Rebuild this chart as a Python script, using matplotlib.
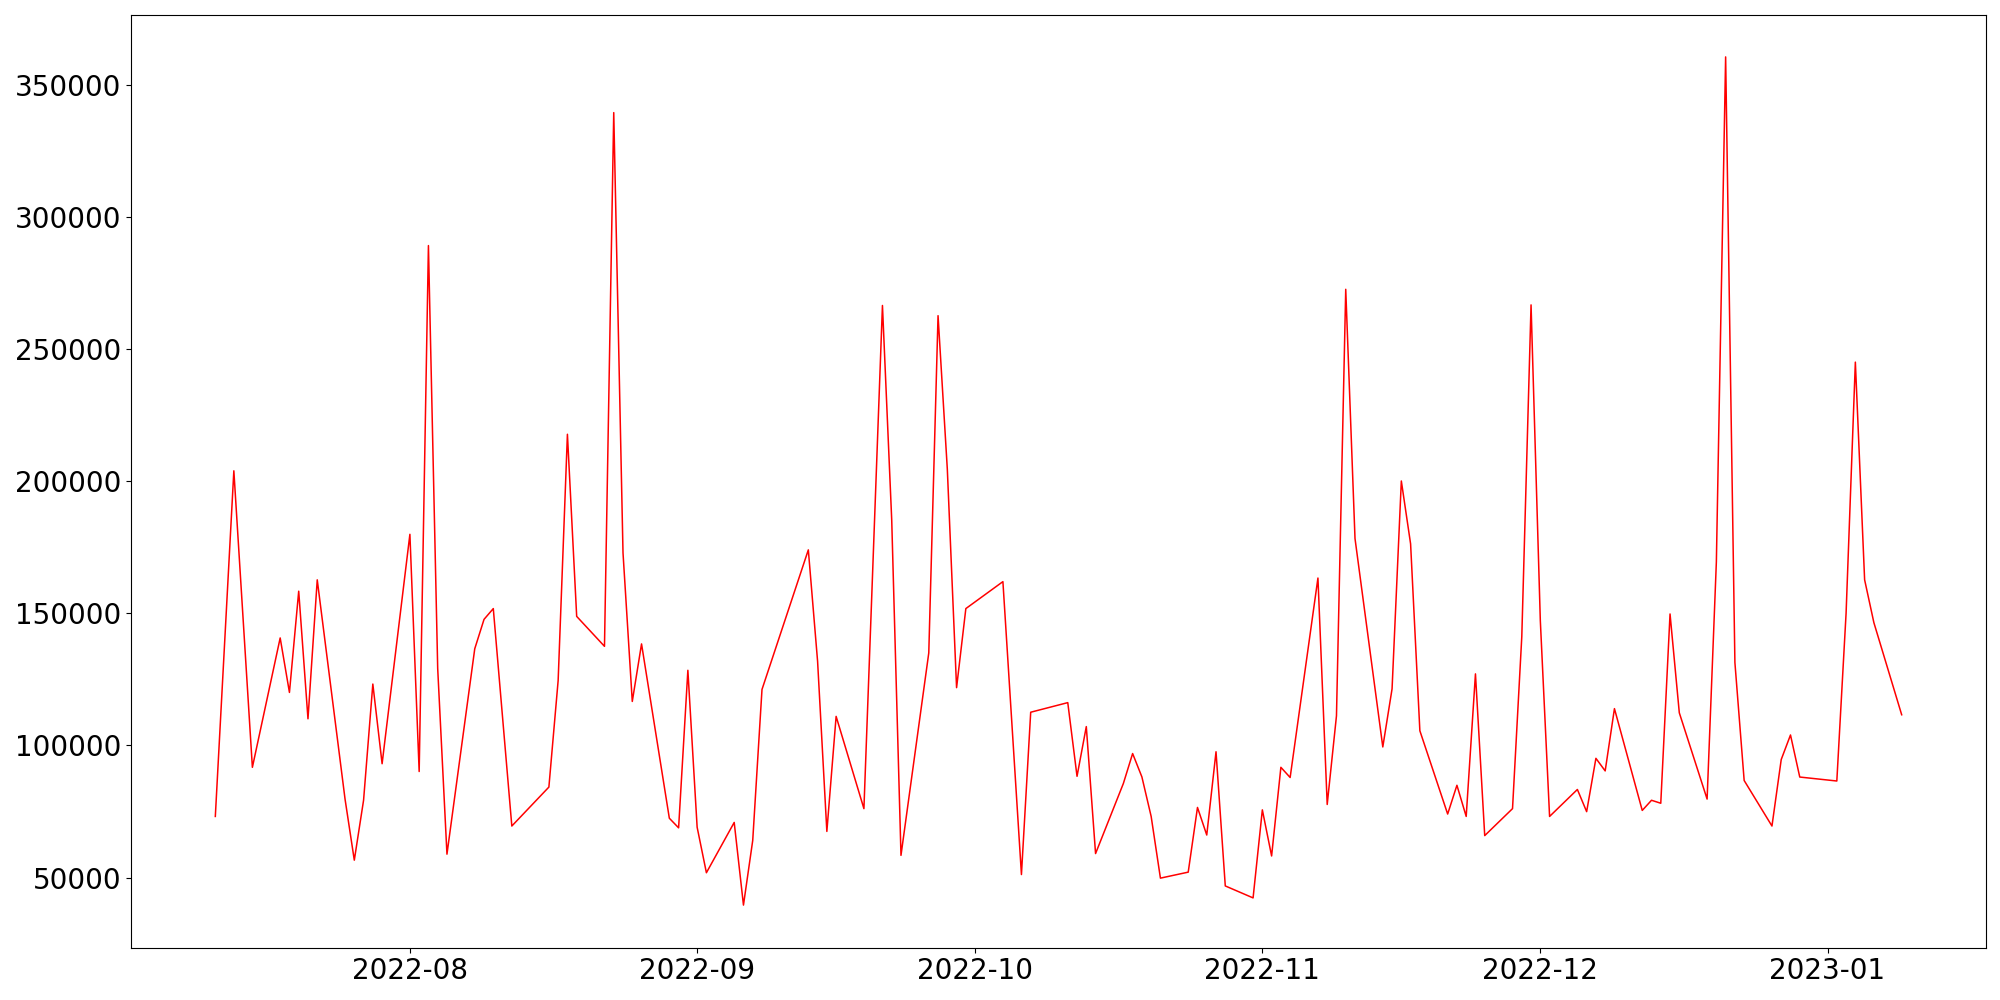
import pandas as pd
import matplotlib.pyplot as plt

dates = [
    "2022-07-11", "2022-07-13", "2022-07-15", "2022-07-18", "2022-07-19", "2022-07-20",
    "2022-07-21", "2022-07-22", "2022-07-25", "2022-07-26", "2022-07-27", "2022-07-28",
    "2022-07-29", "2022-08-01", "2022-08-02", "2022-08-03", "2022-08-04", "2022-08-05",
    "2022-08-08", "2022-08-09", "2022-08-10", "2022-08-12", "2022-08-16", "2022-08-17",
    "2022-08-18", "2022-08-19", "2022-08-22", "2022-08-23", "2022-08-24", "2022-08-25",
    "2022-08-26", "2022-08-29", "2022-08-30", "2022-08-31", "2022-09-01", "2022-09-02",
    "2022-09-05", "2022-09-06", "2022-09-07", "2022-09-08", "2022-09-13", "2022-09-14",
    "2022-09-15", "2022-09-16", "2022-09-19", "2022-09-21", "2022-09-22", "2022-09-23",
    "2022-09-26", "2022-09-27", "2022-09-28", "2022-09-29", "2022-09-30", "2022-10-04",
    "2022-10-06", "2022-10-07", "2022-10-11", "2022-10-12", "2022-10-13", "2022-10-14",
    "2022-10-17", "2022-10-18", "2022-10-19", "2022-10-20", "2022-10-21", "2022-10-24",
    "2022-10-25", "2022-10-26", "2022-10-27", "2022-10-28", "2022-10-31", "2022-11-01",
    "2022-11-02", "2022-11-03", "2022-11-04", "2022-11-07", "2022-11-08", "2022-11-09",
    "2022-11-10", "2022-11-11", "2022-11-14", "2022-11-15", "2022-11-16", "2022-11-17",
    "2022-11-18", "2022-11-21", "2022-11-22", "2022-11-23", "2022-11-24", "2022-11-25",
    "2022-11-28", "2022-11-29", "2022-11-30", "2022-12-01", "2022-12-02", "2022-12-05",
    "2022-12-06", "2022-12-07", "2022-12-08", "2022-12-09", "2022-12-12", "2022-12-13",
    "2022-12-14", "2022-12-15", "2022-12-16", "2022-12-19", "2022-12-20", "2022-12-21",
    "2022-12-22", "2022-12-23", "2022-12-26", "2022-12-27", "2022-12-28", "2022-12-29",
    "2023-01-02", "2023-01-03", "2023-01-04", "2023-01-05", "2023-01-06", "2023-01-09",
]

values = [
    73150, 203950, 91740, 140700, 120080, 158390,
    110100, 162690, 79720, 56600, 79270, 123250,
    93100, 179920, 90150, 289190, 129140, 58870,
    136620, 147730, 151810, 69520, 84260, 124610,
    217780, 148860, 137530, 339510, 172890, 116670,
    138440, 72470, 68840, 128460, 69070, 51840,
    70880, 39600, 64080, 121210, 174030, 131860,
    67480, 111010, 76100, 266520, 185360, 58420,
    135040, 262660, 204630, 121890, 151810, 162010,
    51160, 112590, 116220, 88340, 107150, 59100,
    85620, 96950, 88110, 73150, 49800, 52070,
    76550, 66120, 97630, 46850, 42320, 75640,
    58190, 91740, 87890, 163370, 77680, 111230,
    272640, 178330, 99450, 121440, 200100, 176290,
    105570, 74060, 84940, 73150, 127100, 65900,
    76100, 141160, 266740, 147280, 73150, 83350,
    74960, 95140, 90380, 113950, 75420, 79270,
    78140, 149770, 112370, 79720, 169490, 360590,
    131410, 86750, 69520, 94690, 103980, 88060,
    86560, 150060, 245080, 162710, 146480, 111630,
]

plt.rcParams["font.size"] = 20

fig, ax = plt.subplots(figsize=(20, 10), dpi=100)
ax.plot(pd.to_datetime(dates), values, color="red", linewidth=1.1)

fig.subplots_adjust(left=0.0655, right=0.993, top=0.9855, bottom=0.0525)
fig.savefig("out.png")
